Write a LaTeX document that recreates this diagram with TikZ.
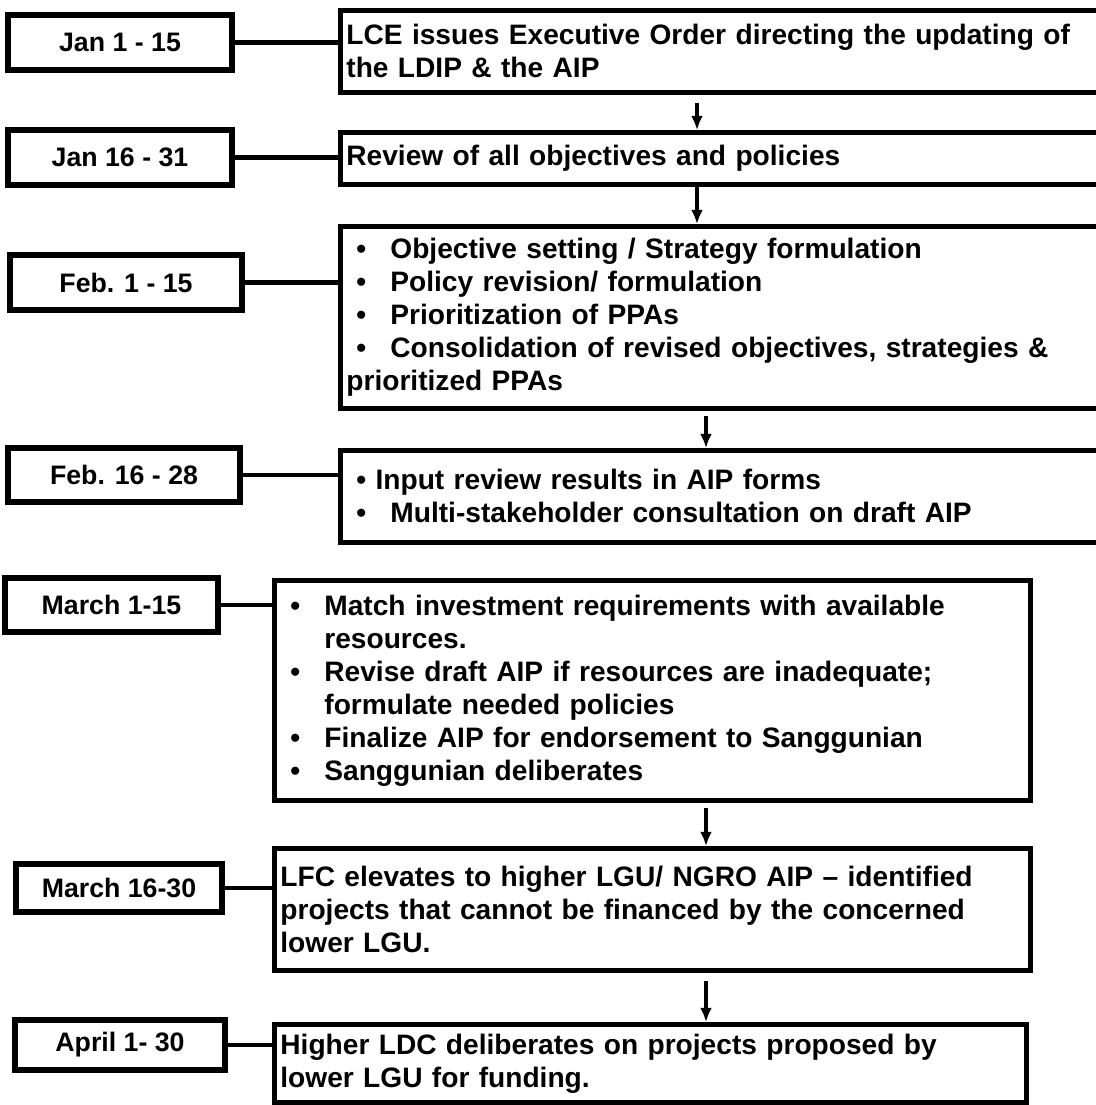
\documentclass[tikz,border=0pt]{standalone}
\usepackage{fontspec}
\setmainfont{Liberation Sans}
\usetikzlibrary{calc,arrows.meta}
\newcommand{\listdot}{\makebox[1.1cm][l]{\hspace{0.25cm}\textbullet}}
\begin{document}
\begin{tikzpicture}[x=0.025cm, y=-0.025cm,
  datebox/.style={shape=rectangle, draw, line width=3.8pt, inner sep=2pt,
    font=\fontsize{19}{22}\selectfont\bfseries},
  actbox/.style={shape=rectangle, draw, line width=3.4pt, anchor=north west,
    inner xsep=0.15cm, inner ysep=3pt, align=left,
    font=\fontsize{20}{23.5}\selectfont\bfseries},
  link/.style={line width=3pt},
  flowarrow/.style={-{Latex[length=10pt,width=8.5pt]}, line width=2.4pt}]
\useasboundingbox (0,0) rectangle (1096,1105);
\clip (0,0) rectangle (1096,1105);

%%% Schedule
\node[datebox, minimum width=5.6cm, minimum height=1.375cm]   (d1) at (120,42.5) {Jan 1 - 15};
\node[datebox, minimum width=5.6cm, minimum height=1.375cm]   (d2) at (120,157.5) {Jan 16 - 31};
\node[datebox, minimum width=5.8cm, minimum height=1.375cm]   (d3) at (126,282.5) {Feb. 1 - 15};
\node[datebox, minimum width=5.8cm, minimum height=1.35cm]    (d4) at (124,475) {Feb. 16 - 28};
\node[datebox, minimum width=5.325cm, minimum height=1.35cm]  (d5) at (111.5,605) {March 1-15};
\node[datebox, minimum width=5.15cm, minimum height=1.2cm]    (d6) at (119,888) {March 16-30};
\node[datebox, minimum width=5.25cm, minimum height=1.25cm]   (d7) at (120,1045) {April 1- 30};

%%% Activities
\node[actbox, text width=19.25cm, minimum height=2.05cm] (a1) at (338,8)
  {LCE issues Executive Order directing the updating of\\the LDIP \& the AIP};
\node[actbox, text width=19.25cm, minimum height=1.3cm] (a2) at (338,130)
  {Review of all objectives and policies};
\node[actbox, text width=19.25cm, minimum height=4.55cm] (a3) at (338,224)
  {\listdot Objective setting / Strategy formulation\\
   \listdot Policy revision/ formulation\\
   \listdot Prioritization of PPAs\\
   \listdot Consolidation of revised objectives, strategies \&\\
   prioritized PPAs};
\node[actbox, text width=19.25cm, minimum height=2.3cm] (a4) at (338,448)
  {\hspace{0.25cm}\textbullet\ Input review results in AIP forms\\
   \listdot Multi-stakeholder consultation on draft AIP};
\node[actbox, text width=18.6cm, minimum height=5.5cm] (a5) at (272,578)
  {\listdot Match investment requirements with available\\
   \hspace*{1.1cm}resources.\\
   \listdot Revise draft AIP if resources are inadequate;\\
   \hspace*{1.1cm}formulate needed policies\\
   \listdot Finalize AIP for endorsement to Sanggunian\\
   \listdot Sanggunian deliberates};
\node[actbox, text width=18.6cm, minimum height=3.05cm] (a6) at (272,846)
  {LFC elevates to higher LGU/ NGRO AIP -- identified\\
   projects that cannot be financed by the concerned\\
   lower LGU.};
\node[actbox, text width=18.5cm, minimum height=1.95cm] (a7) at (272,1022)
  {Higher LDC deliberates on projects proposed by\\
   lower LGU for funding.};

\coordinate (c1) at (697,0);
\coordinate (c2) at (706,0);

\draw[link](d1.east)--(d1.east -| a1.west);
\draw[link](d2.east)--(d2.east -| a2.west);
\draw[link](d3.east)--(d3.east -| a3.west);
\draw[link](d4.east)--(d4.east -| a4.west);
\draw[link](d5.east)--(d5.east -| a5.west);
\draw[link](d6.east)--(d6.east -| a6.west);
\draw[link](d7.east)--(d7.east -| a7.west);

\draw[flowarrow,shorten <=6pt](a1.south -| c1)--(a2.north -| c1);
\draw[flowarrow](a2.south -| c1)--(a3.north -| c1);
\draw[flowarrow,shorten <=4pt](a3.south -| c2)--(a4.north -| c2);
\draw[flowarrow,shorten <=4pt](a5.south -| c2)--(a6.north -| c2);
\draw[flowarrow,shorten <=6pt](a6.south -| c2)--(a7.north -| c2);

\end{tikzpicture}
\end{document}
